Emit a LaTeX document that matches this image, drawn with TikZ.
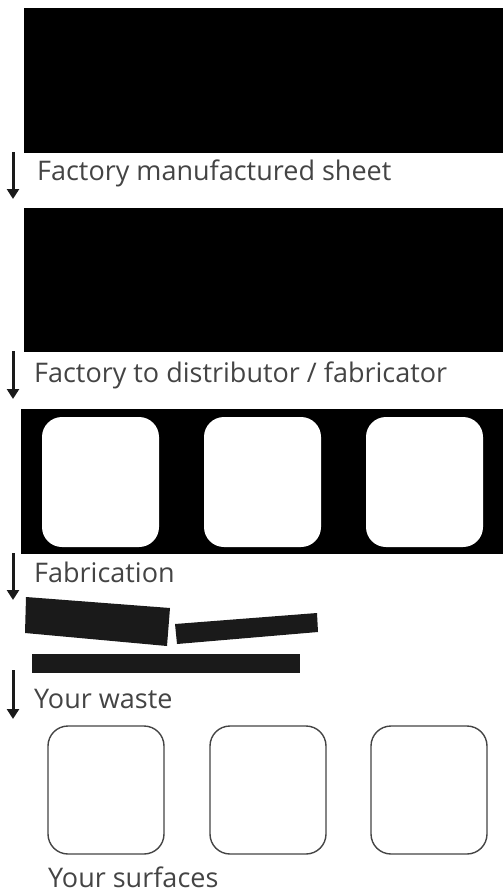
\documentclass[tikz,border=0pt]{standalone}
\usepackage{fontspec}
\setmainfont{Open Sans}
\usepackage{tikz}
\usetikzlibrary{arrows.meta}
\definecolor{ink}{HTML}{444444}
\definecolor{slab}{HTML}{1A1A1A}

\begin{document}
\begin{tikzpicture}[x=1pt, y=-1pt]
			\tikzset{caption/.style={anchor = base west, inner sep = 0, text depth = 0pt, text = ink, font = \fontsize{27}{30}\selectfont}}
			\tikzset{flow/.style={draw = slab, line width = 3pt, -{Triangle[width = 12pt, length = 10pt]}}}
			\tikzset{cutout/.style={fill = white, rounded corners = 20pt}}
			\tikzset{part/.style={draw = ink, line width = 1.4pt, rounded corners = 20pt}}
			\useasboundingbox (0, 0) rectangle (503, 892);
			%sheets
			\fill[black] (24, 8) rectangle (503, 153);
			\fill[black] (24, 208) rectangle (503, 352);
			\fill[black] (21, 409) rectangle (503, 554);
			\foreach \x in {42, 204, 366}
				\path[cutout] (\x, 417) rectangle ++(117, 130);
			%offcuts
			\fill[slab] (26, 597) -- (170, 608) -- (167, 646) -- (25, 633) -- cycle;
			\fill[slab] (175, 624) -- (317, 613) -- (318, 632) -- (177, 644) -- cycle;
			\fill[slab] (32, 654) rectangle (300, 673);
			%surfaces
			\foreach \x in {48, 210, 371}
				\draw[part] (\x, 726) rectangle ++(116, 128);
			%labels
			\node[caption] (sheet) at (37, 180) {Factory manufactured sheet};
			\node[caption] (supply) at (34, 382) {Factory to distributor / fabricator};
			\node[caption] (fab) at (34, 582) {Fabrication};
			\node[caption] (waste) at (34, 708) {Your waste};
			\node[caption] (result) at (48, 887) {Your surfaces};
			%arrows
			\coordinate (s1) at (13, 152);
			\coordinate (e1) at (13, 199);
			\coordinate (s2) at (13, 351);
			\coordinate (e2) at (13, 399);
			\coordinate (s3) at (13, 553);
			\coordinate (e3) at (13, 600);
			\coordinate (s4) at (13, 670);
			\coordinate (e4) at (13, 719);
			\path (s1) edge[flow] (e1);
			\path (s2) edge[flow] (e2);
			\path (s3) edge[flow] (e3);
			\path (s4) edge[flow] (e4);
\end{tikzpicture}
\end{document}
